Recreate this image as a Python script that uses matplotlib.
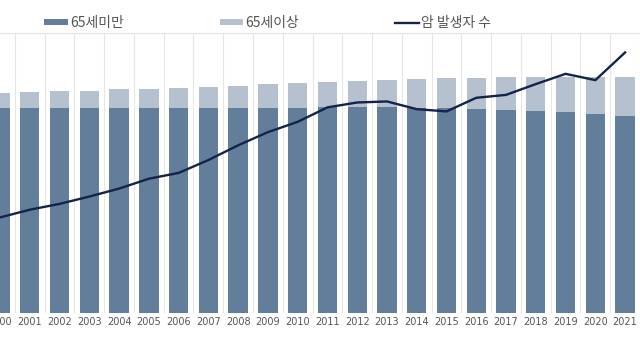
import matplotlib
matplotlib.use("Agg")
import matplotlib.pyplot as plt
import numpy as np
from matplotlib.patches import Patch
from matplotlib.lines import Line2D

plt.rcParams['font.family'] = ['Noto Sans CJK KR', 'DejaVu Sans']

years = [str(y) for y in range(2000, 2022)]
under65 = [44.6, 44.6, 44.6, 44.6, 44.6, 44.6, 44.6, 44.6, 44.6, 44.6, 44.6,
           44.8, 44.8, 44.8, 44.6, 44.6, 44.3, 44.1, 43.9, 43.7, 43.3, 42.8]
over65 = [3.2, 3.35, 3.6, 3.7, 4.0, 4.1, 4.35, 4.55, 4.8, 5.1, 5.3,
          5.5, 5.65, 5.9, 6.3, 6.5, 6.75, 7.15, 7.4, 7.6, 8.05, 8.5]
cases = [101.8, 110.0, 116.2, 124.0, 132.5, 143.0, 149.2, 162.9, 178.6, 192.6, 203.6,
         219.0, 224.2, 225.3, 217.1, 214.7, 229.2, 232.3, 243.8, 254.7, 248.0, 277.5]

dark = '#627e9b'
light = '#b5c1ce'
navy = '#13234a'

fig = plt.figure(figsize=(6.4, 3.6), dpi=100)
ax = fig.add_axes([0, 47/360, 1, 280/360])
x = np.arange(len(years))

ax.bar(x, under65, width=0.65, color=dark, zorder=2)
ax.bar(x, over65, bottom=under65, width=0.65, color=light, zorder=2)
ax.set_xlim(0.316, 21.16)
ax.set_ylim(0, 60.87)
ax.set_yticks([])
ax.set_xticks(x)
ax.set_xticklabels(years, fontsize=7, color='#555555', family='DejaVu Sans')
ax.set_xticks(x + 0.5, minor=True)
ax.tick_params(axis='x', which='both', length=0, pad=3)
ax.grid(axis='x', which='minor', color='#e6e6e6', lw=0.8, zorder=0)
ax.set_axisbelow(True)
for s in ['left', 'right', 'bottom']:
    ax.spines[s].set_visible(False)
ax.spines['top'].set_color('#e3e3e3')
ax.spines['top'].set_linewidth(0.8)

ax2 = ax.twinx()
ax2.plot(x, cases, color=navy, lw=1.7, zorder=3)
ax2.set_ylim(0, 298.2)
ax2.set_yticks([])
for s in ax2.spines.values():
    s.set_visible(False)

handles = [Patch(facecolor=dark, edgecolor='none'),
           Patch(facecolor=light, edgecolor='none'),
           Line2D([], [], color=navy, lw=1.7)]
labels = ['65세미만', '65세이상', '암 발생자 수']
fig.legend(handles, labels, ncol=3, loc='center', bbox_to_anchor=(0.418, 1 - 23/360),
           frameon=False, fontsize=10, handlelength=1.7, handleheight=0.35,
           handletextpad=0.15, columnspacing=6.9, labelcolor='#555555')

fig.savefig('out.png', dpi=100)
